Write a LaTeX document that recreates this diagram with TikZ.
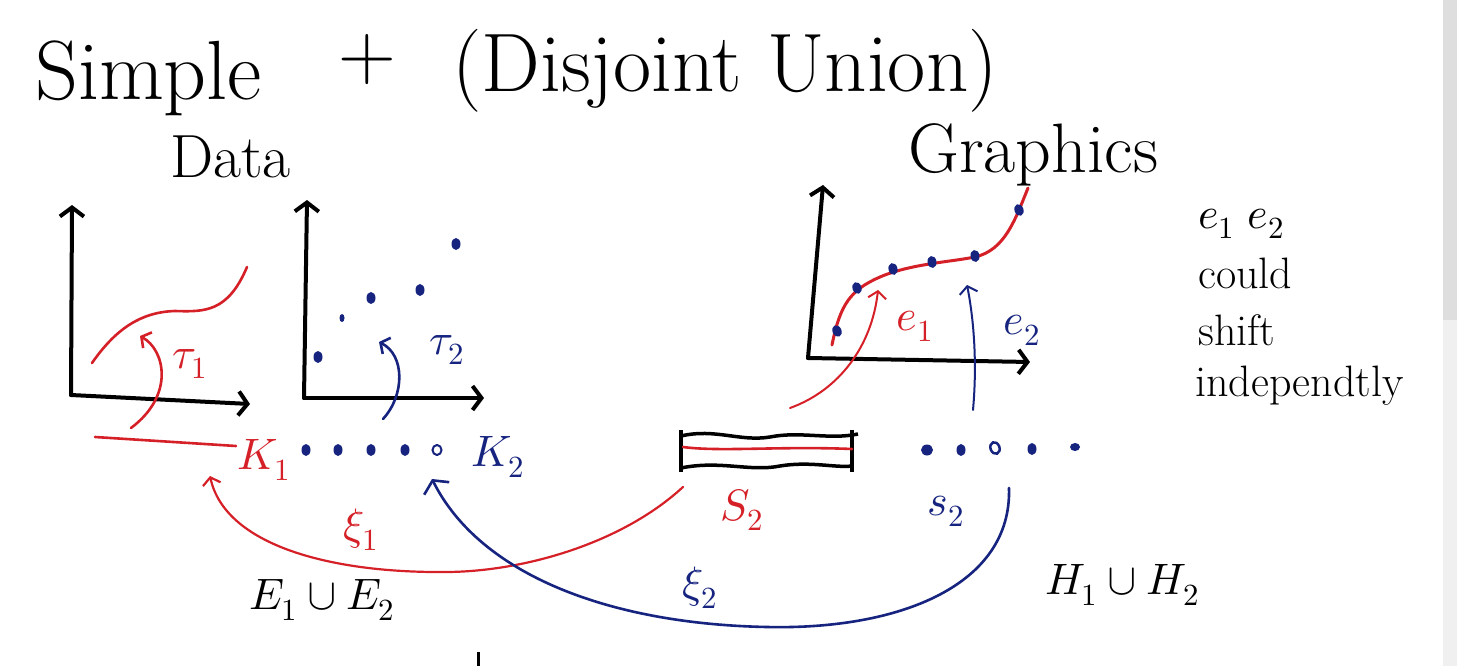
\documentclass[tikz,border=0pt]{standalone}
\usepackage{unicode-math}
\usetikzlibrary{arrows.meta,shapes.geometric}
\definecolor{mred}{RGB}{214,32,40}
\definecolor{mblue}{RGB}{22,36,128}
\definecolor{barA}{RGB}{222,222,222}
\definecolor{barB}{RGB}{240,240,240}
\begin{document}
\begin{tikzpicture}[x=1pt,y=-1pt,
  every node/.style={inner sep=0pt},
  axis/.style={black,line width=4pt,line cap=round,-{Straight Barb[length=9pt,width=24pt]}},
  redline/.style={mred,line width=2.6pt,line cap=round},
  blueline/.style={mblue,line width=2.6pt,line cap=round},
  redarrow/.style={redline,-{Straight Barb[length=7pt,width=18pt]}},
  bluearrow/.style={blueline,-{Straight Barb[length=7pt,width=18pt]}},
  bdot/.style={ellipse,fill=mblue,minimum width=9pt,minimum height=12pt},
  hand/.style={font=\fontsize{44}{50}\selectfont},
  lbl/.style={font=\fontsize{44}{50}\selectfont},
  redlbl/.style={lbl,text=mred},
  bluelbl/.style={lbl,text=mblue}]
\useasboundingbox (0,0) rectangle (1457,666);
\fill[white] (0,0) rectangle (1457,666);
\fill[barB] (1443,0) rectangle (1457,666);
\fill[barA] (1443,0) rectangle (1457,320);

% title
\node[anchor=base west,font=\fontsize{84}{96}\selectfont] (tSimple) at (35,100) {Simple};
\node[font=\fontsize{80}{90}\selectfont] (tPlus) at (367,60) {+};
\node[anchor=base west,font=\fontsize{83}{96}\selectfont] (tUnion) at (452,92) {(Disjoint Union)};

% headings
\node[anchor=base west,font=\fontsize{61}{66}\selectfont] (data) at (170,178) {Data};
\node[anchor=base west,font=\fontsize{70}{76}\selectfont] (graphics) at (908,172) {Graphics};

% ---------- Data axis 1
\coordinate (o1) at (71,395);
\coordinate (y1) at (72,205);
\coordinate (x1) at (250,404);
\draw[axis] (o1) -- (y1);
\draw[axis] (o1) -- (x1);
\draw[redline] (92,363) .. controls (115,330) and (140,312) .. (175,311)
  .. controls (205,312) and (228,312) .. (247,267);
\coordinate (t1s) at (131,428);
\coordinate (t1e) at (140,336);
\draw[redarrow] (t1s) .. controls (175,395) and (165,350) .. (t1e);
\node[redlbl] (tau1) at (190,364) {$\tau_1$};

% ---------- Data axis 2
\coordinate (o2) at (304,398);
\coordinate (y2) at (307,200);
\coordinate (x2) at (484,398);
\draw[axis] (o2) -- (y2);
\draw[axis] (o2) -- (x2);
\node[bdot] (d21) at (318,357) {};
\node[bdot,minimum width=5pt,minimum height=8pt] (d22) at (342,318) {};
\node[bdot] (d23) at (371,298) {};
\node[bdot] (d24) at (420,290) {};
\node[bdot] (d25) at (456,244) {};
\coordinate (t2s) at (383,419);
\coordinate (t2e) at (379,342);
\draw[bluearrow] (t2s) .. controls (405,395) and (405,355) .. (t2e);
\node[bluelbl] (tau2) at (447,350) {$\tau_2$};

% ---------- K row
\coordinate (kl) at (95,437);
\coordinate (kr) at (236,446);
\draw[redline] (kl) -- (kr);
\node[redlbl] (K1) at (264,460) {$K_1$};
\node[bdot] (k1) at (306,450) {};
\node[bdot] (k2) at (338,450) {};
\node[bdot] (k3) at (371,450) {};
\node[bdot] (k4) at (405,450) {};
\node[bdot,fill=none,draw=mblue,line width=2pt,minimum width=9pt,minimum height=10pt] (k5) at (437,450) {};
\node[bluelbl] (K2) at (498,457) {$K_2$};

% ---------- S2 box
\coordinate (bl) at (681,430);
\coordinate (bl2) at (681,472);
\coordinate (br) at (852,430);
\coordinate (br2) at (852,472);
\draw[black,line width=3.5pt] (bl) -- (bl2);
\draw[black,line width=3.5pt] (br) -- (br2);
\draw[black,line width=3.5pt] (681,436) .. controls (715,428) and (740,442) .. (770,437)
  .. controls (800,431) and (830,440) .. (858,434);
\draw[black,line width=3.5pt] (681,468) .. controls (720,460) and (750,472) .. (780,466)
  .. controls (810,461) and (835,468) .. (852,466);
\draw[redline] (683,447) .. controls (720,452) and (780,446) .. (852,449);
\node[redlbl] (S2) at (742,510) {$S_2$};

% ---------- s2 row
\node[bdot,minimum width=12pt,minimum height=11pt] (s1) at (927,450) {};
\node[bdot] (s2d) at (961,450) {};
\node[bdot,fill=none,draw=mblue,line width=2.5pt,minimum width=9pt,minimum height=12pt,rotate=20] (s3) at (995,448) {};
\node[bdot] (s4) at (1032,449) {};
\node[bdot,minimum width=10pt,minimum height=8pt] (s5) at (1075,447) {};
\node[bluelbl] (s2lbl) at (946,511) {$s_2$};

% ---------- Graphics axis
\coordinate (o3) at (808,358);
\coordinate (y3) at (823,185);
\coordinate (x3) at (1030,362);
\draw[axis] (o3) -- (y3);
\draw[axis] (o3) -- (x3);
\draw[redline,line width=3pt] (832,345) .. controls (840,305) and (850,290) .. (880,277)
  .. controls (910,264) and (950,262) .. (975,257)
  .. controls (1005,250) and (1015,220) .. (1028,188);
\node[bdot,rotate=25] (g1) at (837,331) {};
\node[bdot,rotate=20] (g2) at (857,288) {};
\node[bdot,rotate=15] (g3) at (893,269) {};
\node[bdot,rotate=10] (g4) at (932,262) {};
\node[bdot,rotate=10] (g5) at (975,256) {};
\node[bdot,rotate=20] (g6) at (1019,210) {};
\coordinate (e1s) at (790,408);
\coordinate (e1e) at (878,290);
\draw[redarrow,line width=2pt] (e1s) .. controls (840,390) and (872,345) .. (e1e);
\node[redlbl] (e1) at (915,326) {$e_1$};
\coordinate (e2s) at (973,410);
\coordinate (e2e) at (967,285);
\draw[bluearrow,line width=2pt] (e2s) .. controls (978,355) and (972,310) .. (e2e);
\node[bluelbl] (e2) at (1022,330) {$e_2$};

% ---------- bottom arrows
\coordinate (xi1s) at (683,487);
\coordinate (xi1e) at (210,476);
\draw[redarrow,line width=2.2pt] (xi1s) .. controls (620,545) and (520,572) .. (445,572)
  .. controls (330,573) and (225,545) .. (xi1e);
\node[redlbl] (xi1) at (361,530) {$\xi_1$};
\coordinate (xi2s) at (1009,488);
\coordinate (xi2e) at (432,479);
\draw[bluearrow,-{Straight Barb[length=9pt,width=28pt]}] (xi2s) .. controls (1012,585) and (900,630) .. (767,627)
  .. controls (610,624) and (480,575) .. (xi2e);
\node[bluelbl] (xi2) at (700,588) {$\xi_2$};

\node[lbl] (EE) at (322,600) {$E_1\cup E_2$};
\node[lbl] (HH) at (1122,585) {$H_1\cup H_2$};

% ---------- right note
\node[anchor=base west,hand] (n1) at (1198,228) {$e_1\ e_2$};
\node[anchor=base west,hand] (n2) at (1198,288) {could};
\node[anchor=base west,hand] (n3) at (1198,345) {shift};
\node[anchor=base west,hand] (n4) at (1195,396) {independtly};

% stray tick
\coordinate (tk1) at (478,652);
\coordinate (tk2) at (478,666);
\draw[black,line width=3pt] (tk1) -- (tk2);
\end{tikzpicture}
\end{document}
